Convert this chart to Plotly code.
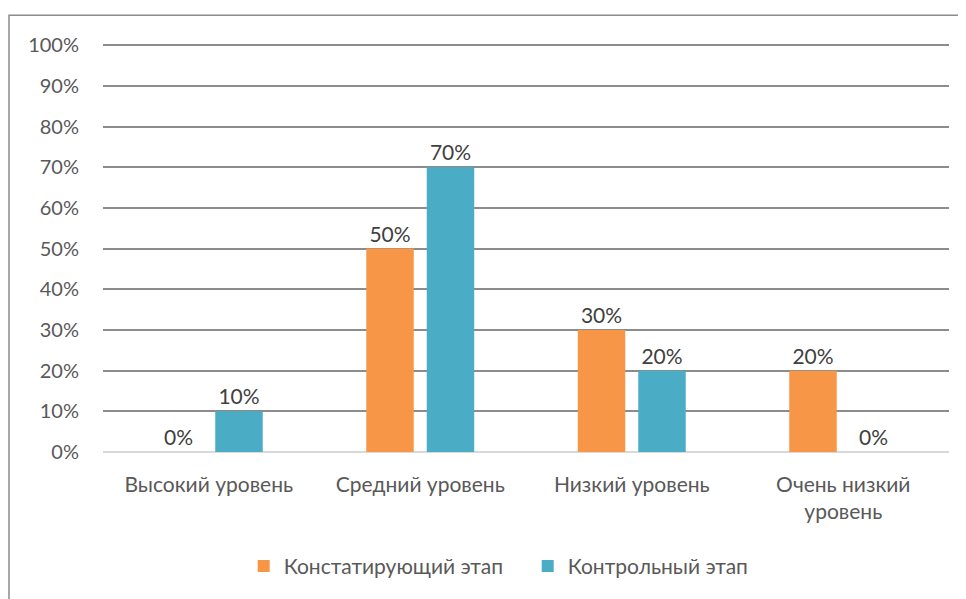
import plotly.graph_objects as go

categories = ["Высокий уровень", "Средний уровень", "Низкий уровень", "Очень низкий<br>уровень"]
series_names = ["Констатирующий этап", "Контрольный этап"]
stage1 = [0, 50, 30, 20]
stage2 = [10, 70, 20, 0]
colors = ["#F79646", "#4BACC6"]
tick_vals = [0, 10, 20, 30, 40, 50, 60, 70, 80, 90, 100]
tick_text = [f"{v}%" for v in tick_vals]

FONT = "Lato, Carlito, Calibri, sans-serif"
fig = go.Figure()
for name, vals, c in zip(series_names, [stage1, stage2], colors):
    fig.add_trace(go.Bar(
        x=categories, y=vals, name=name, marker=dict(color=c, line=dict(width=0)),
        text=[f"{v}%" for v in vals], textposition="outside",
        textfont=dict(family=FONT, size=21, color="#404040"),
        cliponaxis=False,
    ))

# page body adds an 8px offset
W, H = 958, 591
L, R, T, B = 95, 17, 36, 145
pw, ph = W - L - R, H - T - B
fig.update_layout(
    width=W, height=H, margin=dict(l=L, r=R, t=T, b=B),
    paper_bgcolor="white", plot_bgcolor="white",
    barmode="group", bargap=0.428, bargroupgap=0.215,
    font=dict(family=FONT, size=20, color="#595959"),
    legend=dict(orientation="h", x=0.502, xanchor="center", y=-0.28, yanchor="middle",
                font=dict(size=21, color="#595959"), entrywidth=239, entrywidthmode="pixels",
                traceorder="normal"),
    showlegend=True,
    xaxis=dict(showgrid=False, showline=False, ticks="", tickfont=dict(size=21, color="#595959"),
               ticklabelstandoff=18),
    yaxis=dict(range=[0, 100.3], tickvals=tick_vals, ticktext=tick_text, showgrid=True,
               gridcolor="#8c8c8c", gridwidth=1.5, zeroline=True, zerolinecolor="#d9d9d9",
               zerolinewidth=1.5, showline=False, ticks="", ticklabelstandoff=23,
               tickfont=dict(size=20, color="#595959")),
    shapes=[dict(type="rect", xref="paper", yref="paper",
                 x0=(1 - L) / pw, x1=(W + 10 - L) / pw,
                 y0=-(B + 10) / ph, y1=(H - B - 7) / ph,
                 line=dict(color="#8c8c8c", width=1.5), fillcolor="rgba(0,0,0,0)", layer="below")],
)
fig.write_html("out.html")
